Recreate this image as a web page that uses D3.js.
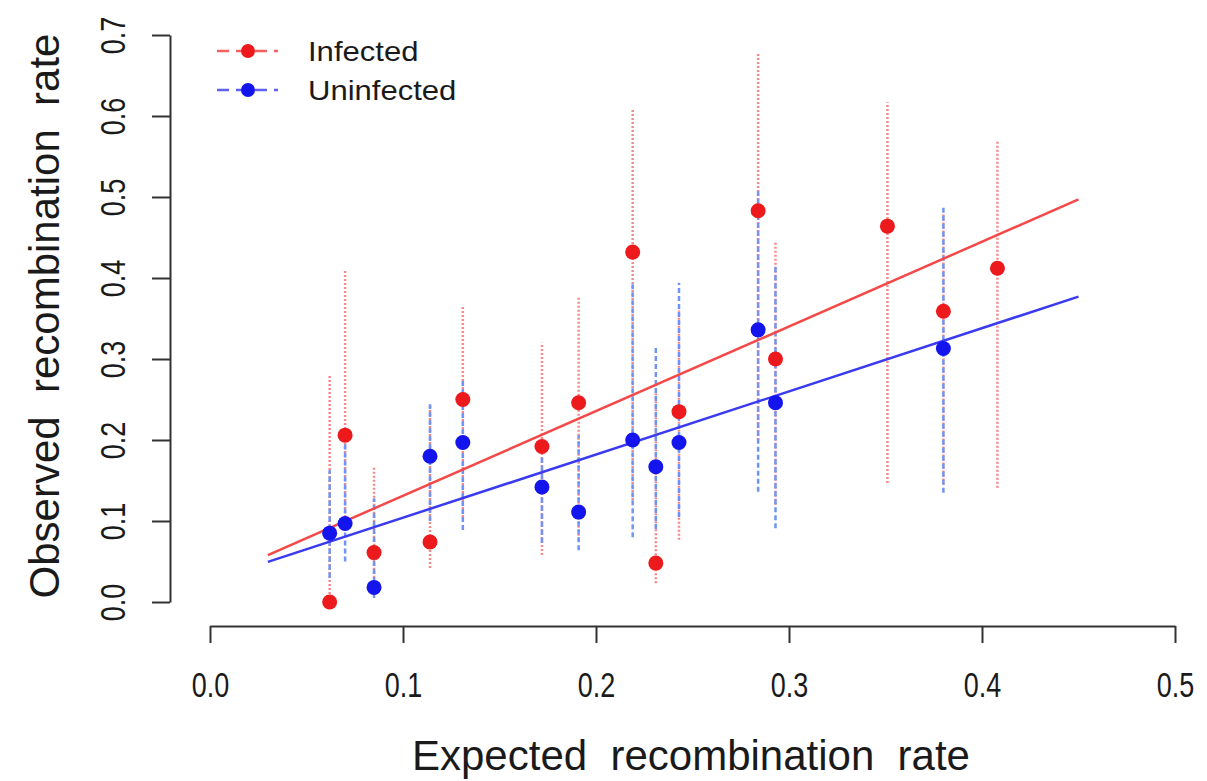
<!DOCTYPE html>
<html>
  <head>
    <title>Observed vs expected recombination rate</title>
    <script src="https://d3js.org/d3.v7.min.js"></script>
    <style>
      body { margin: 0; background: #fff; }
      text { font-family: "Liberation Sans", Arial, sans-serif; fill: #1a1a1a; }
      .axis path, .axis line { stroke: #333; stroke-width: 2; }
      .axis text { font-size: 27px; fill: #1a1a1a; }
      .axis__label { font-size: 42px; }
      .legend text { font-size: 27px; }
    </style>
  </head>
  <body>
    <svg width="1207" height="781"></svg>
    <script>
      // Infected
      const expectedInfected = [0.062, 0.070, 0.085, 0.114, 0.131, 0.172, 0.191, 0.219, 0.231, 0.243, 0.284, 0.293, 0.351, 0.380, 0.408];
      const observedInfected = [0.000, 0.206, 0.061, 0.074, 0.250, 0.192, 0.246, 0.432, 0.048, 0.235, 0.483, 0.300, 0.464, 0.359, 0.412];
      const lowerInfected    = [0.000, 0.090, 0.030, 0.042, 0.105, 0.058, 0.077, 0.126, 0.023, 0.077, 0.200, 0.120, 0.147, 0.145, 0.141];
      const upperInfected    = [0.281, 0.410, 0.167, 0.244, 0.365, 0.320, 0.377, 0.608, 0.260, 0.360, 0.679, 0.444, 0.617, 0.480, 0.569];

      // Uninfected
      const expectedUninfected = [0.062, 0.070, 0.085, 0.114, 0.131, 0.172, 0.191, 0.219, 0.231, 0.243, 0.284, 0.293, 0.380];
      const observedUninfected = [0.085, 0.097, 0.018, 0.180, 0.197, 0.142, 0.111, 0.200, 0.167, 0.197, 0.336, 0.246, 0.313];
      const lowerUninfected    = [0.030, 0.050, 0.005, 0.100, 0.089, 0.073, 0.064, 0.080, 0.090, 0.105, 0.136, 0.091, 0.135];
      const upperUninfected    = [0.163, 0.200, 0.128, 0.244, 0.275, 0.180, 0.206, 0.394, 0.314, 0.394, 0.507, 0.414, 0.487];

      // fitted lines (end points)
      const fitX = [0.03, 0.45];
      const fitInfected = [0.058, 0.497];
      const fitUninfected = [0.0495, 0.377];

      const xTicks = [0, 0.1, 0.2, 0.3, 0.4, 0.5];
      const yTicks = [0, 0.1, 0.2, 0.3, 0.4, 0.5, 0.6, 0.7];
      const seriesNames = ["Infected", "Uninfected"];

      const red = "#ec1a1c";
      const blue = "#1414ec";

      const svg = d3.select("svg");

      const x = d3.scaleLinear().domain([0, 0.5]).range([210, 1175]);
      const y = d3.scaleLinear().domain([0, 0.7]).range([602, 35]);

      // tick labels in the picture are tall and narrow
      const tall = 1.3;

      // x axis
      const xAxisG = svg.append("g")
          .attr("class", "axis")
          .attr("transform", "translate(0, 626)")
          .call(d3.axisBottom(x).tickValues(xTicks).tickSize(17).tickSizeOuter(0)
            .tickFormat(d3.format(".1f")));
      xAxisG.selectAll("text")
          .attr("y", 0).attr("dy", 0)
          .attr("transform", `translate(0, 71) scale(1, ${tall})`);

      // y axis
      const yAxisG = svg.append("g")
          .attr("class", "axis")
          .attr("transform", "translate(170, 0)")
          .call(d3.axisLeft(y).tickValues(yTicks).tickSize(18).tickSizeOuter(0)
            .tickFormat(d3.format(".1f")));
      yAxisG.selectAll("text")
          .attr("x", 0).attr("dy", 0).attr("y", 0)
          .attr("text-anchor", "middle")
          .attr("transform", `translate(-45, 0) scale(${tall}, 1) rotate(-90)`);

      // axis titles
      svg.append("text")
          .attr("class", "axis__label")
          .attr("text-anchor", "middle")
          .attr("x", 691)
          .attr("y", 770)
          .style("white-space", "pre")
          .text("Expected  recombination  rate");

      svg.append("text")
          .attr("class", "axis__label")
          .attr("text-anchor", "middle")
          .attr("transform", "translate(59, 316) rotate(-90)")
          .style("white-space", "pre")
          .text("Observed  recombination  rate");

      const infected = expectedInfected.map((d, i) => ({
        x: d, y: observedInfected[i], lo: lowerInfected[i], hi: upperInfected[i]
      }));
      const uninfected = expectedUninfected.map((d, i) => ({
        x: d, y: observedUninfected[i], lo: lowerUninfected[i], hi: upperUninfected[i]
      }));

      // error bars
      svg.append("g").selectAll("line")
        .data(infected)
        .enter().append("line")
          .attr("x1", d => x(d.x)).attr("x2", d => x(d.x))
          .attr("y1", d => y(d.lo)).attr("y2", d => y(d.hi))
          .attr("stroke", "#f58a8a")
          .attr("stroke-width", 2.5)
          .attr("stroke-dasharray", "2,2");

      svg.append("g").selectAll("line")
        .data(uninfected)
        .enter().append("line")
          .attr("x1", d => x(d.x)).attr("x2", d => x(d.x))
          .attr("y1", d => y(d.lo)).attr("y2", d => y(d.hi))
          .attr("stroke", "#7094f5")
          .attr("stroke-width", 2.5)
          .attr("stroke-dasharray", "5,3");

      // fitted lines
      const line = d3.line().x(d => x(d[0])).y(d => y(d[1]));
      svg.append("path")
          .attr("d", line(fitX.map((d, i) => [d, fitInfected[i]])))
          .attr("fill", "none").attr("stroke", "#f54848").attr("stroke-width", 2.5);
      svg.append("path")
          .attr("d", line(fitX.map((d, i) => [d, fitUninfected[i]])))
          .attr("fill", "none").attr("stroke", "#3a3af0").attr("stroke-width", 2.5);

      // points
      svg.append("g").selectAll("circle")
        .data(infected)
        .enter().append("circle")
          .attr("cx", d => x(d.x)).attr("cy", d => y(d.y))
          .attr("r", 7.5).attr("fill", red);

      svg.append("g").selectAll("circle")
        .data(uninfected)
        .enter().append("circle")
          .attr("cx", d => x(d.x)).attr("cy", d => y(d.y))
          .attr("r", 7.5).attr("fill", blue);

      // legend
      const colorScale = d3.scaleOrdinal().domain(seriesNames).range([red, blue]);
      const dashScale = d3.scaleOrdinal().domain(seriesNames).range(["#f56060", "#6060f5"]);

      const legendG = svg.append("g")
          .attr("class", "legend")
          .attr("transform", "translate(217, 51)");

      const items = legendG.selectAll(".item")
        .data(seriesNames)
        .enter().append("g")
          .attr("class", "item")
          .attr("transform", (d, i) => `translate(0, ${i * 39})`);

      items.append("line")
          .attr("x1", 0).attr("x2", 61)
          .attr("stroke", dashScale)
          .attr("stroke-width", 2.5)
          .attr("stroke-dasharray", "12,7");

      items.append("circle")
          .attr("cx", 31)
          .attr("r", 7)
          .attr("fill", colorScale);

      items.append("text")
          .attr("transform", "translate(91, 10) scale(1.15, 1)")
          .text(d => d);
    </script>
  </body>
</html>
